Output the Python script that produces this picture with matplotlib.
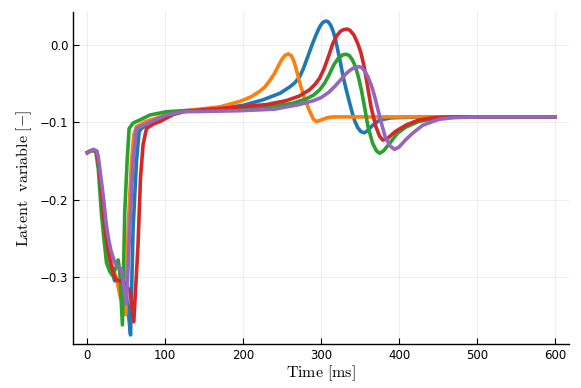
import matplotlib
matplotlib.use("Agg")
import matplotlib.pyplot as plt

# time [ms] and latent value for each of the five runs
t_blue = [0, 4, 8, 12, 15, 18, 21, 24, 28, 31, 35, 42, 48, 52, 55.4, 58.7, 63, 66.4, 69.5, 80, 93,
          110, 125, 144, 170, 200, 225, 247, 260, 266, 272, 277, 281, 285, 289, 293, 296, 299, 302,
          304.5, 306.6, 309, 312, 315, 318, 321, 325, 328, 332, 336, 340, 343, 347, 351, 355, 358,
          362, 366, 375, 390, 420, 600]
y_blue = [-0.139, -0.137, -0.136, -0.138, -0.16, -0.19, -0.22, -0.25, -0.275, -0.29, -0.305, -0.305,
          -0.31, -0.34, -0.375, -0.237, -0.151, -0.112, -0.108, -0.100, -0.096,
          -0.088, -0.085, -0.084, -0.082, -0.078, -0.071, -0.0625, -0.054, -0.049, -0.042, -0.031,
          -0.020, -0.009, 0.002, 0.012, 0.019, 0.025, 0.029,
          0.0305, 0.031, 0.030, 0.026, 0.019, 0.009, -0.005, -0.024, -0.040, -0.057, -0.073, -0.088,
          -0.098, -0.107, -0.112, -0.1135, -0.112,
          -0.108, -0.104, -0.097, -0.0942, -0.0932, -0.093]

t_orange = [0, 4, 8, 12, 15, 18, 21, 24, 28, 32, 37, 42, 49.3, 52.3, 56.6, 59.6, 63, 75, 93, 110,
            125, 144, 170, 195.5, 210, 221, 228, 234, 240, 245, 250, 254, 258, 262, 265, 268, 272,
            278, 285, 290, 294, 300, 308, 315, 600]
y_orange = [-0.140, -0.137, -0.136, -0.138, -0.158, -0.188, -0.218, -0.248, -0.272, -0.288, -0.300,
            -0.325, -0.349, -0.237, -0.151, -0.116, -0.1055, -0.099, -0.093, -0.087,
            -0.085, -0.083, -0.080, -0.073, -0.067, -0.060, -0.054, -0.046, -0.037, -0.027, -0.018,
            -0.013, -0.0115, -0.014, -0.021, -0.031, -0.047,
            -0.067, -0.085, -0.096, -0.099, -0.097, -0.094, -0.093, -0.093]

t_green = [0, 4, 8, 11, 14, 16, 18, 21, 24.6, 28.8, 32, 36, 39.5, 41.6, 45, 48, 51, 53.6, 58.7,
           71.5, 80, 93, 101.5, 122.8, 144, 195.5, 230, 263, 280, 290, 298, 304, 310, 316, 322, 328,
           332, 336, 340, 344, 348, 352, 356, 360, 366, 371, 375, 380, 388, 398, 409, 425, 445, 470,
           600]
y_green = [-0.139, -0.137, -0.136, -0.139, -0.160, -0.188, -0.217, -0.248, -0.282, -0.293, -0.298,
           -0.290, -0.278, -0.293, -0.362, -0.216, -0.151, -0.108, -0.101,
           -0.095, -0.0906, -0.088, -0.0863, -0.085, -0.085, -0.083, -0.080, -0.0755, -0.070, -0.065,
           -0.058, -0.050, -0.039, -0.026, -0.017, -0.0125,
           -0.012, -0.0135, -0.019, -0.028, -0.042, -0.060, -0.082, -0.105, -0.127, -0.137, -0.140,
           -0.137, -0.127, -0.114, -0.106, -0.099, -0.095, -0.093, -0.093]

t_red = [0, 4, 8, 12, 15, 18, 21, 24, 28.8, 33, 37, 44, 50, 55, 59.6, 65, 68.2, 71.5, 75.9, 85, 93,
         110, 125, 144, 195.5, 230, 255, 272, 285, 292, 298, 304, 310, 315, 320, 325, 329, 333.4,
         337, 342, 347, 351, 355, 359, 364, 370, 375, 379, 385, 395, 409, 425, 445, 470, 600]
y_red = [-0.139, -0.137, -0.136, -0.138, -0.158, -0.188, -0.22, -0.248, -0.276, -0.295, -0.304,
         -0.306, -0.31, -0.32, -0.358, -0.259, -0.172, -0.129, -0.108, -0.102, -0.099,
         -0.090, -0.086, -0.084, -0.080, -0.077, -0.072, -0.066, -0.058, -0.051, -0.043, -0.030,
         -0.013, 0.002, 0.012, 0.018, 0.020, 0.0207,
         0.019, 0.013, 0.002, -0.010, -0.027, -0.050, -0.080, -0.105, -0.118, -0.123, -0.121,
         -0.112, -0.1035, -0.097, -0.094, -0.093, -0.093]

t_purple = [0, 4, 8, 12, 14, 17, 21, 24, 26.7, 30, 34, 37.4, 43.8, 48, 50.2, 54.5, 58.7, 63, 80,
            101.5, 122.8, 144, 195.5, 240, 272, 290, 300, 310, 318, 325, 332, 338, 343, 348, 352,
            356, 360, 364, 368, 372, 377, 382, 388, 394, 400, 408, 417.5, 430, 443, 452, 470, 500,
            600]
y_purple = [-0.139, -0.137, -0.135, -0.137, -0.1445, -0.168, -0.2, -0.23, -0.248, -0.265, -0.278,
            -0.285, -0.290, -0.323, -0.335, -0.237, -0.151, -0.108, -0.100,
            -0.0906, -0.0863, -0.086, -0.085, -0.083, -0.077, -0.072, -0.068, -0.061, -0.053,
            -0.045, -0.037, -0.032, -0.029, -0.028, -0.029,
            -0.034, -0.041, -0.051, -0.064, -0.080, -0.100, -0.118, -0.130, -0.135, -0.132,
            -0.123, -0.114, -0.104, -0.099, -0.096, -0.094, -0.093, -0.093]

x_ticks = [0, 100, 200, 300, 400, 500, 600]
y_ticks = [-0.3, -0.2, -0.1, 0.0]

plt.rcParams["mathtext.fontset"] = "cm"

fig = plt.figure(figsize=(5.81, 3.88), dpi=100)
ax = fig.add_axes([0.1262, 0.1126, 0.8531, 0.8572])

series = [
    (t_blue, y_blue, "#1f77b4"),
    (t_orange, y_orange, "#ff7f0e"),
    (t_green, y_green, "#2ca02c"),
    (t_red, y_red, "#d62728"),
    (t_purple, y_purple, "#9467bd"),
]
for t, y, c in series:
    ax.plot(t, y, color=c, lw=2.6, solid_joinstyle="round")

ax.set_xlim(-18, 618)
ax.set_ylim(-0.3872, 0.0431)
ax.set_xticks(x_ticks)
ax.set_yticks(y_ticks)
ax.set_yticklabels(["\u22120.3", "\u22120.2", "\u22120.1", "0.0"])

ax.grid(True, color="#000000", alpha=0.08, lw=0.6)
ax.set_axisbelow(True)
for side in ["top", "right"]:
    ax.spines[side].set_visible(False)
for side in ["left", "bottom"]:
    ax.spines[side].set_linewidth(1.0)
ax.tick_params(direction="in", length=4, width=0.8, labelsize=8.5, colors="black")

ax.set_xlabel(r"$\mathrm{Time\ [ms]}$", fontsize=11.5, labelpad=1)
ax.set_ylabel(r"$\mathrm{Latent\ \ variable\ [-]}$", fontsize=11.5, labelpad=4)

fig.savefig("out.png", dpi=100)
